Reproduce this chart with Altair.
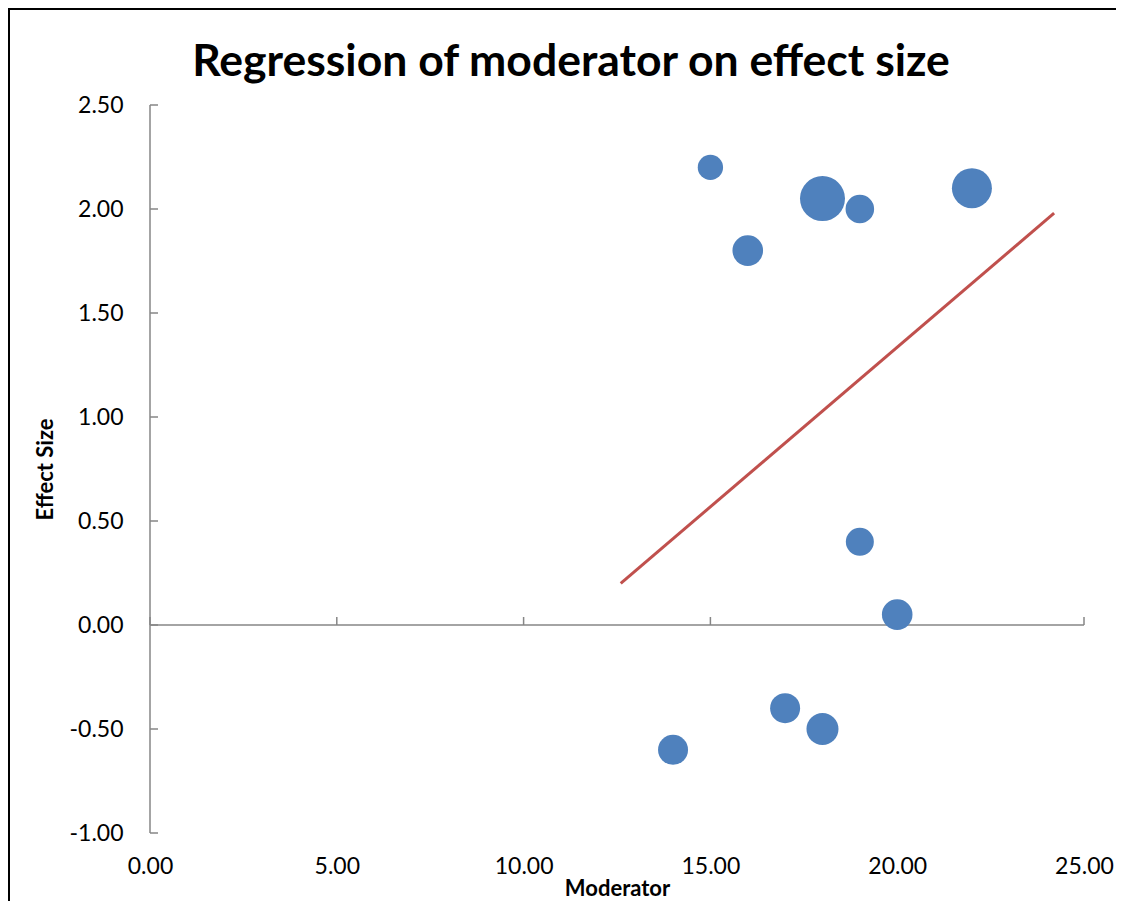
import altair as alt
import pandas as pd

# ---- data ----
moderator = [15, 16, 18, 19, 22, 19, 20, 17, 18, 14]
effect_size = [2.20, 1.80, 2.05, 2.00, 2.10, 0.40, 0.05, -0.40, -0.50, -0.60]
weight = [160, 234, 506, 204, 400, 196, 234, 225, 256, 225]

line_x = [12.6, 24.2]
line_y = [0.20, 1.98]

x_ticks = [0, 5, 10, 15, 20, 25]
y_ticks = [-1.0, -0.5, 0.0, 0.5, 1.0, 1.5, 2.0, 2.5]

title_text = ["Regression of moderator on effect size"]

points = pd.DataFrame({"Moderator": moderator, "Effect": effect_size, "Weight": weight})
reg = pd.DataFrame({"Moderator": line_x, "Effect": line_y})
xt = pd.DataFrame({"t": x_ticks})
yt = pd.DataFrame({"t": y_ticks})
one = pd.DataFrame({"a": [0]})
ttl = pd.DataFrame({"title": title_text})

W, H = 934, 728
FONT = "Lato"
AXIS_GREY = "#868686"
lab = "replace(format(datum.value, '.2f'), '\u2212', '-')"

xs = alt.Scale(domain=[0, 25], nice=False, zero=False)
ys = alt.Scale(domain=[-1, 2.5], nice=False, zero=False)

xaxis = alt.Axis(values=x_ticks, labelExpr=lab, domain=False, ticks=False, grid=False,
                 labelFlush=False, labelPadding=22, title="Moderator", titlePadding=0)
yaxis = alt.Axis(values=y_ticks, labelExpr=lab, domain=False, ticks=False, grid=False,
                 labelFlush=False, labelPadding=27, title="Effect Size", titlePadding=12)

base_pts = alt.Chart(points).mark_circle(color="#4F81BD", opacity=1).encode(
    x=alt.X("Moderator:Q", scale=xs, axis=xaxis),
    y=alt.Y("Effect:Q", scale=ys, axis=yaxis),
    size=alt.Size("Weight:Q", scale=alt.Scale(domain=[0, 500], range=[0, 2000]), legend=None),
)

reg_line = alt.Chart(reg).mark_line(color="#C0504D", strokeWidth=3).encode(
    x=alt.X("Moderator:Q", scale=xs, axis=xaxis),
    y=alt.Y("Effect:Q", scale=ys, axis=yaxis),
)

x_axis_line = alt.Chart(one).mark_rule(color=AXIS_GREY, strokeWidth=1.5).encode(
    x=alt.XDatum(0, scale=xs, axis=xaxis),
    x2=alt.X2Datum(25),
    y=alt.YDatum(0, scale=ys, axis=yaxis),
)

y_axis_line = alt.Chart(one).mark_rule(color=AXIS_GREY, strokeWidth=1.5).encode(
    x=alt.XDatum(0, scale=xs, axis=xaxis),
    y=alt.YDatum(-1, scale=ys, axis=yaxis),
    y2=alt.Y2Datum(2.5),
)

x_tick_marks = alt.Chart(xt).mark_rule(color=AXIS_GREY, strokeWidth=1.5, y2Offset=-8).encode(
    x=alt.X("t:Q", scale=xs, axis=xaxis),
    y=alt.YDatum(0, scale=ys, axis=yaxis),
    y2=alt.Y2Datum(0),
)

y_tick_marks = alt.Chart(yt).mark_rule(color=AXIS_GREY, strokeWidth=1.5, x2Offset=8).encode(
    y=alt.Y("t:Q", scale=ys, axis=yaxis),
    x=alt.XDatum(0, scale=xs, axis=xaxis),
    x2=alt.X2Datum(0),
)

frame_top = alt.Chart(one).mark_rule(color="black", strokeWidth=2).encode(
    x=alt.value(-142), x2=alt.value(968), y=alt.value(-96)
)
frame_left = alt.Chart(one).mark_rule(color="black", strokeWidth=2).encode(
    x=alt.value(-141), y=alt.value(-97), y2=alt.value(H + 80)
)

title_mark = alt.Chart(ttl).mark_text(
    font=FONT, fontSize=44.5, fontWeight="bold", color="black",
    align="center", baseline="alphabetic",
).encode(
    text="title:N", x=alt.value(421), y=alt.value(-29)
)

chart = alt.layer(
    frame_top, frame_left, x_axis_line, y_axis_line, x_tick_marks, y_tick_marks,
    reg_line, base_pts, title_mark,
).properties(
    width=W,
    height=H,
    background="white",
    autosize=alt.AutoSizeParams(type="none"),
    padding={"left": 142, "top": 97, "right": 32, "bottom": 68},
).configure_view(stroke=None).configure_axis(
    labelFont=FONT, labelFontSize=23, labelColor="black",
    titleFont=FONT, titleFontSize=22, titleFontWeight="bold", titleColor="black",
)

chart.save("out.html", embed_options={"renderer": "svg", "actions": False})
